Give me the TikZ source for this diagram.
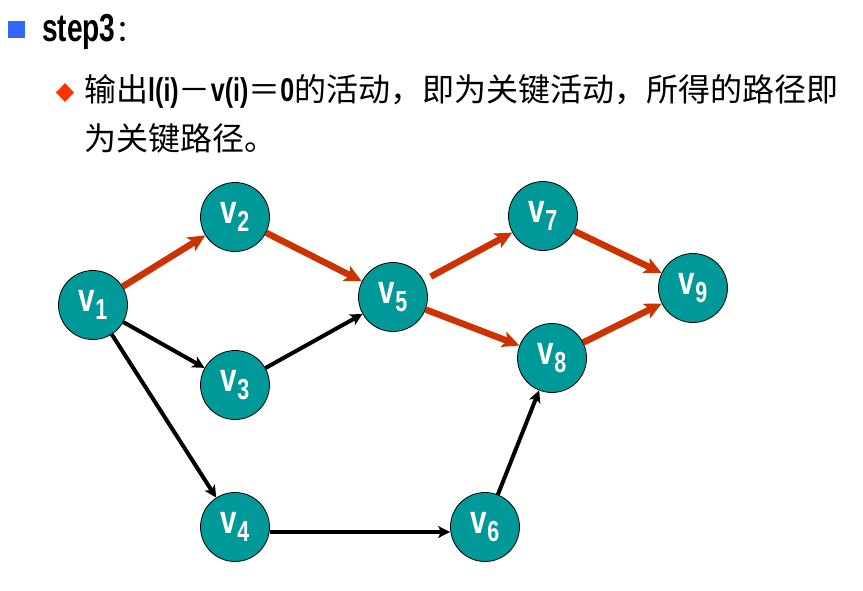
\documentclass[tikz,border=0pt]{standalone}
\usepackage{fontspec}
\setmainfont{Liberation Sans}
\newfontfamily\cjk{Noto Sans CJK SC}
\usetikzlibrary{arrows.meta}
\definecolor{teal1}{RGB}{0,153,153}
\definecolor{redarr}{RGB}{204,51,0}
\definecolor{bluesq}{RGB}{51,102,255}
\definecolor{diam}{RGB}{255,51,0}
\newcommand\vlab[1]{\scalebox{0.74}[1]{\bfseries\fontsize{40}{40}\selectfont v\raisebox{-8pt}{\fontsize{29}{29}\selectfont #1}}}
\newcommand\lat[1]{\scalebox{0.76}[1]{\bfseries\fontsize{33}{33}\selectfont #1}}
\begin{document}
\begin{tikzpicture}[x=1pt,y=-1pt,
  vert/.style={circle,draw=black,line width=0.8pt,fill=teal1,minimum size=69pt,inner sep=0pt,text=white},
  crit/.style={draw=redarr,line width=6.5pt,-{Stealth[length=17pt,width=16pt,inset=4pt]}},
  norm/.style={draw=black,line width=4pt,-{Stealth[length=12pt,width=12pt,inset=3pt]}},
  txt/.style={inner sep=0pt,anchor=base west}]
\useasboundingbox (0,0) rectangle (863,590);
% header
\fill[bluesq] (8,21) rectangle (25,38);
\node[txt] (title) at (42,41) {\scalebox{0.72}[1]{\fontsize{39}{39}\selectfont\bfseries step3}{\fontsize{30}{30}\selectfont\cjk ：}};
\fill[diam] (65,83) -- (74,92.5) -- (65,102) -- (56,92.5) -- cycle;
\node[txt] (line1) at (84,101) {\fontsize{32}{40}\selectfont{\cjk 输出}\lat{l(i)}{\cjk －}\lat{v(i)}{\cjk ＝}\lat{0}{\cjk 的活动，即为关键活动，所得的路径即}};
\node[txt] (line2) at (84,150) {\fontsize{32}{40}\selectfont\cjk 为关键路径。};
% vertices
\node[vert] (v1) at (93,305) {\vlab{1}};
\node[vert] (v2) at (235,217) {\vlab{2}};
\node[vert] (v3) at (235,385) {\vlab{3}};
\node[vert] (v4) at (235,527) {\vlab{4}};
\node[vert] (v5) at (393,297) {\vlab{5}};
\node[vert] (v6) at (485,527) {\vlab{6}};
\node[vert] (v7) at (543,216) {\vlab{7}};
\node[vert] (v8) at (552,358) {\vlab{8}};
\node[vert] (v9) at (693,288) {\vlab{9}};
% edges
\draw[crit] (v1) -- (v2);
\draw[crit] (v2) -- (v5);
\draw[crit,shorten <=8pt] (v5) -- (v7);
\draw[crit] (v5) -- (v8);
\draw[crit] (v7) -- (v9);
\draw[crit] (v8) -- (v9);
\draw[norm] (v1) -- (v3);
\draw[norm] (v3) -- (v5);
\draw[norm] (v1) -- (v4);
\draw[norm] ([yshift=-5pt]v4.east) -- ([yshift=-5pt]v6.west);
\draw[norm] (v6) -- (v8);
\end{tikzpicture}
\end{document}
